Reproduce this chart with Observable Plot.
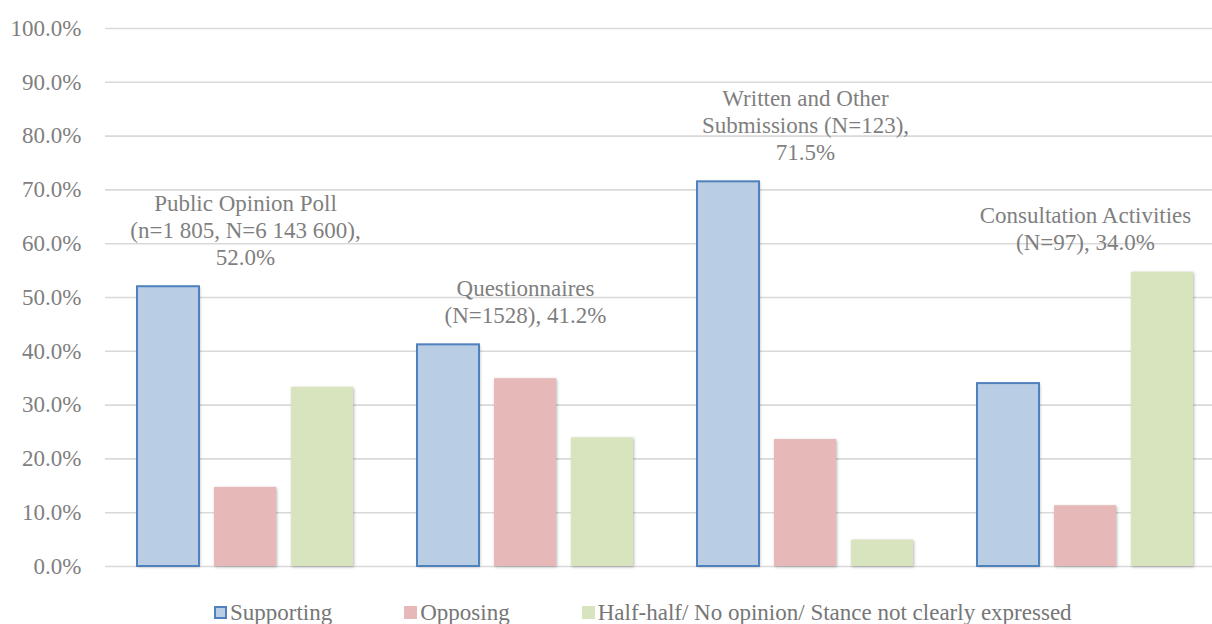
<!DOCTYPE html>
<html>
<head>
<meta charset="utf-8">
<script src="https://cdn.jsdelivr.net/npm/d3@7"></script>
<script src="https://cdn.jsdelivr.net/npm/@observablehq/plot@0.6"></script>
<style>
  html, body { margin: 0; padding: 0; background: #fff; overflow: hidden; }
  #wrap { position: relative; width: 1212px; height: 624px; overflow: hidden; }
  #legend { position: absolute; left: 214px; top: 601px; display: flex; gap: 72px; align-items: center;
    font-size: 23px; color: #767676; white-space: nowrap; line-height: 23px; }
  #legend .item { display: flex; align-items: center; gap: 3px; }
  #legend .sw { width: 13px; height: 13px; box-sizing: border-box; }
  #wrap, #wrap *, #wrap svg text { font-family: "Liberation Serif", "Times New Roman", Tinos, FreeSerif, serif !important; }
</style>
</head>
<body>
<div id="wrap"><div id="chart"></div><div id="legend"></div></div>
<script>
const groups = ["Public Opinion Poll", "Questionnaires", "Written and Other Submissions", "Consultation Activities"];
const series = ["Supporting", "Opposing", "Half-half/ No opinion/ Stance not clearly expressed"];
const supporting = [52.0, 41.2, 71.5, 34.0];
const opposing = [14.7, 34.9, 23.6, 11.3];
const halfHalf = [33.3, 23.9, 4.9, 54.7];
const labelPrefix = [
  "Public Opinion Poll\n(n=1 805, N=6 143 600),\n",
  "Questionnaires\n(N=1528), ",
  "Written and Other\nSubmissions (N=123),\n",
  "Consultation Activities\n(N=97), "
];
const yTicks = [0, 10, 20, 30, 40, 50, 60, 70, 80, 90, 100];
const colors = ["#B9CDE5", "#E6B9B8", "#D7E4BD"];
const supportStroke = "#4F81BD";

const seriesValues = [supporting, opposing, halfHalf];
const data = groups.flatMap((g, i) => series.map((s, j) => ({group: g, series: s, value: seriesValues[j][i]})));
const labels = groups.map((g, i) => ({
  group: g,
  top: Math.max(supporting[i], opposing[i], halfHalf[i]),
  label: labelPrefix[i] + supporting[i].toFixed(1) + "%"
}));

const font = "Liberation Serif, Times New Roman, serif";
const chart = Plot.plot({
  width: 1212,
  height: 624,
  marginTop: 28,
  marginBottom: 58,
  marginLeft: 105,
  marginRight: 0,
  style: {fontFamily: font, fontSize: "23px", color: "#7f7f7f", background: "#fff", overflow: "hidden"},
  fx: {domain: groups, range: [105, 1225], padding: 0, axis: null},
  x: {domain: series, paddingInner: 0.19, paddingOuter: 0.406, axis: null},
  y: {domain: [0, 100]},
  color: {domain: series, range: colors},
  marks: [
    Plot.ruleY(yTicks, {stroke: "#d9d9d9", strokeWidth: 1.6}),
    Plot.axisY({ticks: yTicks, tickFormat: d => d.toFixed(1) + "%", tickSize: 0, tickPadding: 24, fontSize: 23, fill: "#7f7f7f", fontFamily: font}),
    Plot.barY(data, {fx: "group", x: "series", y: "value", fill: "series"}),
    Plot.barY(data.filter(d => d.series === series[0]), {fx: "group", x: "series", y: "value", fill: "none", stroke: supportStroke, strokeWidth: 2}),
    Plot.text(labels, {fx: "group", y: "top", text: "label", lineAnchor: "bottom", dy: -22, fill: "#7f7f7f", fontSize: 23, lineHeight: 1.17, fontFamily: font})
  ]
});
document.getElementById("chart").appendChild(chart);
chart.querySelectorAll("text").forEach(t => t.setAttribute("font-family", font));
const barGroups = chart.querySelectorAll('g[aria-label="bar"]');
if (barGroups.length) barGroups[0].style.filter = "drop-shadow(1px 1.5px 1.5px rgba(0,0,0,0.28))";

const legend = document.getElementById("legend");
series.forEach((s, j) => {
  const item = document.createElement("div");
  item.className = "item";
  const sw = document.createElement("div");
  sw.className = "sw";
  sw.style.background = colors[j];
  if (j === 0) sw.style.border = "2px solid " + supportStroke;
  const t = document.createElement("span");
  t.textContent = s;
  t.style.fontFamily = font;
  item.appendChild(sw);
  item.appendChild(t);
  legend.appendChild(item);
});
</script>
</body>
</html>
